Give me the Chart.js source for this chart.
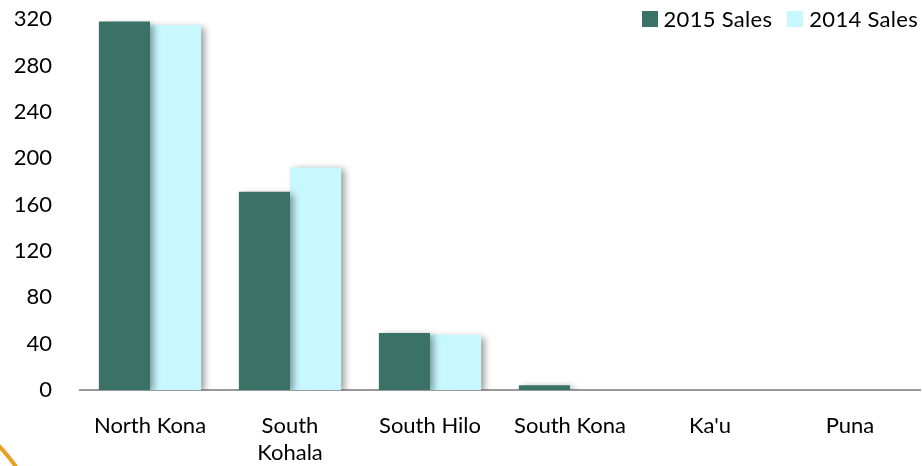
<!DOCTYPE html>
<html><head><meta charset="utf-8">
<script src="https://cdn.jsdelivr.net/npm/chart.js@4.4.1/dist/chart.umd.min.js"></script>
<style>
html,body{margin:0;padding:0;background:#fff;overflow:hidden;}
#wrap{position:relative;width:922px;height:466px;overflow:hidden;}
#c{position:absolute;left:0;top:-22px;}
#legend{position:absolute;top:5px;right:4px;font-family:Lato,sans-serif;font-size:22px;letter-spacing:0.3px;color:#000;display:flex;align-items:center;white-space:nowrap;}
#legend span.box{display:inline-block;width:16px;height:16px;margin-right:6px;}
#legend span.item{display:flex;align-items:center;margin-left:15px;}
</style></head>
<body>
<div id="wrap"><canvas id="c" width="922" height="510"></canvas>
<div id="legend"></div></div>
<script>
const categories = [['North Kona'], ['South','Kohala'], ['South Hilo'], ['South Kona'], ["Ka'u"], ['Puna']];
const seriesNames = ['2015 Sales', '2014 Sales'];
const sales2015 = [318, 171, 49, 4, 0, 0];
const sales2014 = [315, 192, 47.5, 0, 0, 0];
const yTicks = [0, 40, 80, 120, 160, 200, 240, 280, 320];
const colors = ['#3A7268', '#C8F8FF'];

const legend = document.getElementById('legend');
seriesNames.forEach((n,i)=>{
  const it = document.createElement('span'); it.className='item';
  const b = document.createElement('span'); b.className='box'; b.style.background=colors[i];
  it.appendChild(b); it.appendChild(document.createTextNode(n)); legend.appendChild(it);
});

const shadowPlugin = {
  id:'shadow',
  beforeDatasetsDraw(chart){ const ctx=chart.ctx; ctx.save(); ctx.shadowColor='rgba(0,0,0,0.4)'; ctx.shadowBlur=7; ctx.shadowOffsetX=4; ctx.shadowOffsetY=2; },
  afterDatasetsDraw(chart){ chart.ctx.restore(); }
};
const decoPlugin = {
  id:'deco',
  afterDraw(chart){ const ctx=chart.ctx; const oy=22; ctx.save(); ctx.strokeStyle='#E8A020'; ctx.lineWidth=4;
    ctx.beginPath(); ctx.moveTo(-2,445+oy); ctx.quadraticCurveTo(7,454+oy,17,468+oy); ctx.stroke(); ctx.restore(); }
};

new Chart(document.getElementById('c'), {
  type:'bar',
  data:{ labels: categories,
    datasets:[
      {label:seriesNames[0], data:sales2015, backgroundColor:colors[0], categoryPercentage:0.73, barPercentage:1.0},
      {label:seriesNames[1], data:sales2014, backgroundColor:colors[1], categoryPercentage:0.73, barPercentage:1.0}
    ]},
  plugins:[shadowPlugin, decoPlugin],
  options:{
    responsive:false, animation:false,
    layout:{padding:{top:0, right:2, left:0, bottom:0}},
    plugins:{legend:{display:false}, tooltip:{enabled:false}},
    scales:{
      x:{ grid:{display:false, drawTicks:false}, border:{display:true, color:'#999', width:2},
          ticks:{font:{family:'Lato', size:22, lineHeight:1.23}, color:'#000', padding:22, maxRotation:0, autoSkip:false} },
      y:{ min:0, max:320, afterBuildTicks(s){ s.ticks = yTicks.map(v=>({value:v})); },
          afterFit(s){ s.width = 80; },
          grid:{display:false, drawTicks:false}, border:{display:false},
          ticks:{font:{family:'Lato', size:22}, color:'#000', padding:28} }
    }
  }
});
</script>
</body></html>
